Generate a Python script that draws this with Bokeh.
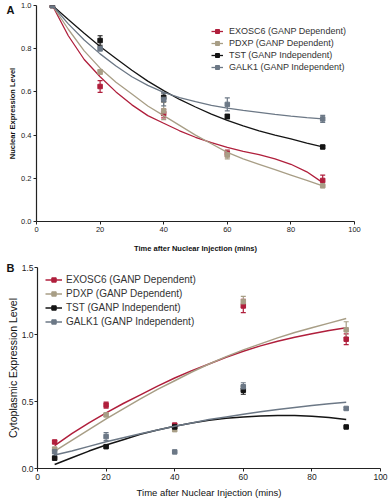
from bokeh.plotting import figure
from bokeh.models import (ColumnDataSource, Whisker, Legend, LegendItem, Range1d, LinearAxis,
                          FixedTicker, TeeHead, CustomJSTickFormatter)
from bokeh.embed import file_html
from bokeh.resources import INLINE

# ---------------- data ----------------
time_pts = [5, 20, 40, 60, 90]
curve_x = [5, 10, 15, 20, 25, 30, 35, 40, 45, 50, 55, 60, 65, 70, 75, 80, 85, 90]

names = ["EXOSC6 (GANP Dependent)", "PDXP (GANP Dependent)",
         "TST (GANP Independent)", "GALK1 (GANP Independent)"]
colors = ["#b01f3c", "#a89e86", "#141414", "#6c7886"]
panel_labels = ["A", "B"]

# Panel A: nuclear expression (means, errors)
nuc_exosc6 = [1.0, 0.625, 0.50, 0.315, 0.19]
nuc_exosc6_err = [0.0, 0.027, 0.02, 0.015, 0.025]
nuc_pdxp = [1.0, 0.692, 0.512, 0.308, 0.165]
nuc_pdxp_err = [0.0, 0.01, 0.04, 0.018, 0.006]
nuc_tst = [1.0, 0.838, 0.575, 0.486, 0.345]
nuc_tst_err = [0.0, 0.022, 0.02, 0.01, 0.005]
nuc_galk1 = [1.0, 0.80, 0.565, 0.542, 0.475]
nuc_galk1_err = [0.0, 0.01, 0.03, 0.03, 0.016]

# Panel A fitted curves
nuc_fit_exosc6 = [1.0, 0.86, 0.75, 0.67, 0.60, 0.54, 0.49, 0.455, 0.42, 0.39, 0.365,
                  0.343, 0.325, 0.31, 0.29, 0.265, 0.23, 0.18]
nuc_fit_pdxp = [1.0, 0.89, 0.79, 0.71, 0.645, 0.59, 0.535, 0.49, 0.445, 0.40, 0.36,
                0.32, 0.29, 0.265, 0.24, 0.215, 0.19, 0.165]
nuc_fit_tst = [1.0, 0.935, 0.872, 0.81, 0.755, 0.70, 0.65, 0.606, 0.565, 0.53, 0.497,
               0.468, 0.443, 0.42, 0.40, 0.383, 0.363, 0.345]
nuc_fit_galk1 = [1.0, 0.915, 0.84, 0.776, 0.72, 0.67, 0.63, 0.598, 0.573, 0.555, 0.538,
                 0.525, 0.514, 0.505, 0.496, 0.488, 0.481, 0.475]

# Panel B: cytoplasmic expression (means, errors)
cyt_exosc6 = [0.198, 0.473, 0.324, 1.213, 0.965]
cyt_exosc6_err = [0.01, 0.022, 0.012, 0.05, 0.04]
cyt_pdxp = [0.145, 0.40, 0.29, 1.245, 1.035]
cyt_pdxp_err = [0.01, 0.012, 0.01, 0.04, 0.06]
cyt_tst = [0.077, 0.163, 0.31, 0.584, 0.31]
cyt_tst_err = [0.005, 0.008, 0.008, 0.03, 0.006]
cyt_galk1 = [0.125, 0.238, 0.124, 0.61, 0.448]
cyt_galk1_err = [0.03, 0.03, 0.005, 0.03, 0.008]

# Panel B fitted curves
cyt_fit_exosc6 = [0.17, 0.26, 0.34, 0.415, 0.485, 0.55, 0.615, 0.675, 0.73, 0.78, 0.83,
                  0.875, 0.915, 0.95, 0.98, 1.005, 1.03, 1.05]
cyt_fit_pdxp = [0.13, 0.21, 0.29, 0.37, 0.445, 0.52, 0.59, 0.655, 0.72, 0.78, 0.835,
                0.885, 0.93, 0.975, 1.015, 1.05, 1.085, 1.12]
cyt_fit_tst = [0.03, 0.08, 0.13, 0.175, 0.215, 0.255, 0.288, 0.315, 0.34, 0.36, 0.375,
               0.385, 0.392, 0.395, 0.395, 0.39, 0.38, 0.365]
cyt_fit_galk1 = [0.10, 0.13, 0.165, 0.20, 0.23, 0.26, 0.288, 0.315, 0.34, 0.365, 0.385,
                 0.405, 0.423, 0.44, 0.455, 0.47, 0.483, 0.495]

x_ticks = [0, 20, 40, 60, 80, 100]
x_label = "Time after Nuclear Injection (mins)"
FONT = "Liberation Sans"


def style(p, tick_size, label_size, label_style):
    p.xgrid.visible = False
    p.ygrid.visible = False
    p.outline_line_color = None
    for ax in (p.xaxis[0], p.yaxis[0]):
        ax.major_label_text_font = FONT
        ax.major_label_text_font_size = tick_size
        ax.major_label_text_color = "#222222"
        ax.axis_label_text_font = FONT
        ax.axis_label_text_font_size = label_size
        ax.axis_label_text_font_style = label_style
        ax.axis_label_text_color = "#111111"
        ax.axis_line_color = "#222222"
        ax.axis_line_width = 1.2
        ax.major_tick_line_color = "#222222"
        ax.major_tick_in = 0
        ax.major_tick_out = 3
        ax.minor_tick_line_color = None
        ax.major_label_standoff = 2
        ax.axis_label_standoff = 6


def add_panel_letter(p, letter, frame_h, pos, standoff):
    # an extra, line-less left axis whose single tick label is the panel letter
    p.extra_y_ranges = {"lab": Range1d(0, frame_h)}
    ax = LinearAxis(y_range_name="lab", ticker=FixedTicker(ticks=[pos]),
                    major_label_overrides={pos: letter},
                    axis_line_color=None, major_tick_line_color=None,
                    minor_tick_line_color=None, major_tick_in=0, major_tick_out=0,
                    major_label_standoff=standoff, major_label_text_font=FONT,
                    major_label_text_font_size="11px", major_label_text_font_style="bold",
                    major_label_text_color="#111111")
    p.add_layout(ax, "left")


def add_series(p, means, errs, fits, color, lw=1.3):
    src = ColumnDataSource(dict(x=time_pts, y=means,
                                lo=[m - e for m, e in zip(means, errs)],
                                hi=[m + e for m, e in zip(means, errs)]))
    w = Whisker(source=src, base="x", lower="lo", upper="hi",
                line_color=color, line_width=1.2,
                lower_head=TeeHead(size=5, line_color=color, line_width=1.2),
                upper_head=TeeHead(size=5, line_color=color, line_width=1.2))
    p.add_layout(w)
    ln = p.line(curve_x, fits, line_color=color, line_width=lw)
    sc = p.scatter("x", "y", source=src, marker="square", size=4.5,
                   fill_color=color, line_color=color)
    return ln, sc


# ---------------- Panel A ----------------
pa = figure(width=390, height=256, output_backend="svg", toolbar_location=None,
            x_range=Range1d(0, 100), y_range=Range1d(0, 1.0),
            min_border_left=36, min_border_right=36, min_border_top=5, min_border_bottom=35)
style(pa, "7.5px", "7.5px", "bold")
pa.xaxis.ticker = FixedTicker(ticks=x_ticks)
pa.yaxis.ticker = FixedTicker(ticks=[0.0, 0.2, 0.4, 0.6, 0.8, 1.0])
pa.yaxis.formatter = CustomJSTickFormatter(code="return tick.toFixed(1);")
pa.xaxis.axis_label = x_label
pa.yaxis.axis_label = "Nuclear Expression Level"
pa.xaxis.axis_label_standoff = 9
pa.yaxis.axis_label_standoff = 1
add_panel_letter(pa, panel_labels[0], 216, 212, -9)

items_a = []
for nm, c, m, e, f in zip(names, colors,
                          [nuc_exosc6, nuc_pdxp, nuc_tst, nuc_galk1],
                          [nuc_exosc6_err, nuc_pdxp_err, nuc_tst_err, nuc_galk1_err],
                          [nuc_fit_exosc6, nuc_fit_pdxp, nuc_fit_tst, nuc_fit_galk1]):
    ln, sc = add_series(pa, m, e, f, c)
    items_a.append(LegendItem(label=nm, renderers=[ln, sc]))

leg_a = Legend(items=items_a, location=(175, 149), border_line_color=None,
               background_fill_alpha=0, label_text_font=FONT, label_text_font_size="9px",
               label_text_color="#333333", glyph_width=12, glyph_height=10,
               label_height=10, spacing=2, padding=0, margin=0, label_standoff=6)
pa.add_layout(leg_a, "center")

# ---------------- Panel B ----------------
pb = figure(width=390, height=244, output_backend="svg", toolbar_location=None,
            x_range=Range1d(0, 100), y_range=Range1d(0, 1.5),
            min_border_left=37, min_border_right=10, min_border_top=11, min_border_bottom=31)
style(pb, "8.5px", "9.5px", "normal")
pb.yaxis.axis_label_text_font_size = "10.5px"
pb.yaxis.axis_label_standoff = 0
pb.yaxis.major_label_standoff = 1
pb.xaxis.ticker = FixedTicker(ticks=x_ticks)
pb.yaxis.ticker = FixedTicker(ticks=[0.0, 0.5, 1.0, 1.5])
pb.yaxis.formatter = CustomJSTickFormatter(code="return tick.toFixed(1);")
pb.xaxis.axis_label = x_label
pb.yaxis.axis_label = "Cytoplasmic Expression Level"
pb.xaxis.axis_label_standoff = 4
add_panel_letter(pb, panel_labels[1], 202, 202, -11)

items_b = []
for nm, c, m, e, f in zip(names, colors,
                          [cyt_exosc6, cyt_pdxp, cyt_tst, cyt_galk1],
                          [cyt_exosc6_err, cyt_pdxp_err, cyt_tst_err, cyt_galk1_err],
                          [cyt_fit_exosc6, cyt_fit_pdxp, cyt_fit_tst, cyt_fit_galk1]):
    ln, sc = add_series(pb, m, e, f, c, lw=1.5)
    items_b.append(LegendItem(label=nm, renderers=[ln, sc]))

leg_b = Legend(items=items_b, location=(8, 141), border_line_color=None,
               background_fill_alpha=0, label_text_font=FONT, label_text_font_size="10px",
               label_text_color="#333333", glyph_width=17, glyph_height=11,
               label_height=11, spacing=3, padding=0, margin=0, label_standoff=4)
pb.add_layout(leg_b, "center")

open("out.html", "w").write(file_html([pa, pb], INLINE))
